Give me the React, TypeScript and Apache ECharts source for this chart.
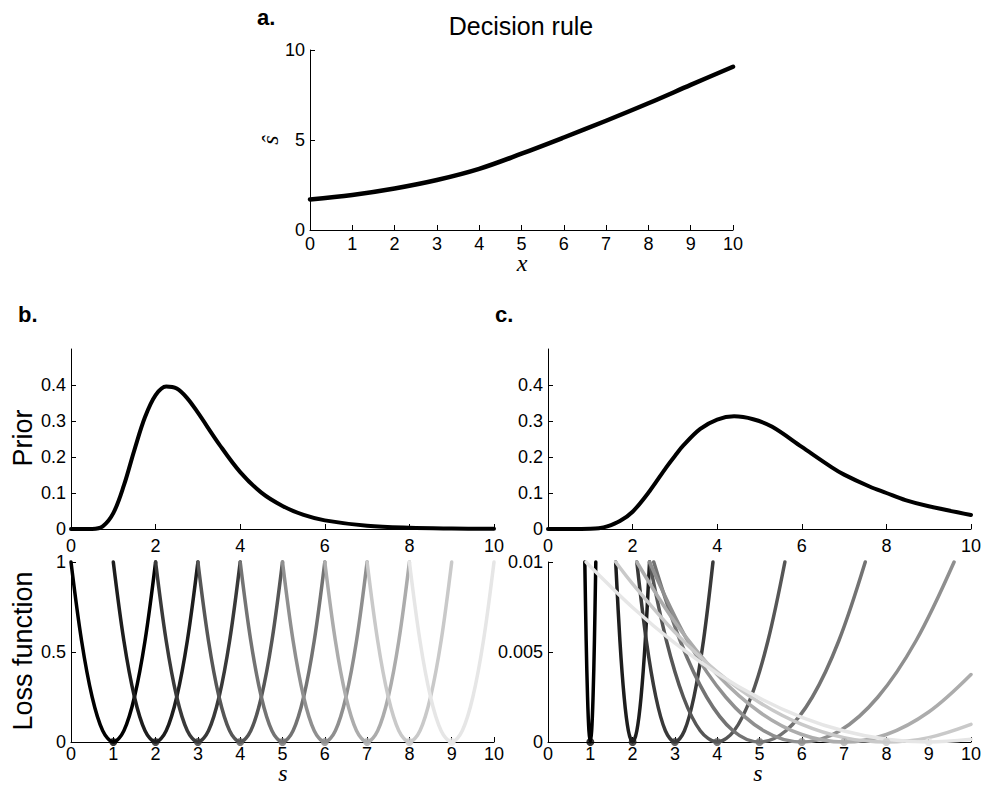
import React, { useEffect, useRef } from 'react';
import * as echarts from 'echarts';

// ---------- data ----------
const decisionX = [0, 1, 2, 3, 4, 5, 6, 7, 8, 9, 10];
const decisionY = [1.70, 1.95, 2.31, 2.78, 3.40, 4.24, 5.14, 6.07, 7.04, 8.06, 9.07];

const priorBS = [0, 0.5, 0.75, 1, 1.25, 1.5, 1.75, 2, 2.25, 2.5, 2.75, 3, 3.5, 4, 4.5, 5, 5.5, 6, 7, 8, 9, 10];
const priorBV = [0, 0.0003, 0.0075, 0.044, 0.121, 0.22, 0.311, 0.372, 0.396, 0.39, 0.363, 0.323, 0.236, 0.158, 0.101, 0.064, 0.039, 0.024, 0.009, 0.0033, 0.0013, 0.0005];

const priorCS = [0, 0.5, 1.0, 1.2, 1.4, 1.7, 2.0, 2.4, 2.8, 3.0, 3.2, 3.6, 4.0, 4.4, 4.85, 5.3, 6.0, 6.7, 7.0, 7.6, 8.0, 8.45, 9.0, 10];
const priorCV = [0, 0, 0.0005, 0.002, 0.007, 0.022, 0.048, 0.105, 0.172, 0.203, 0.232, 0.278, 0.304, 0.313, 0.305, 0.284, 0.228, 0.172, 0.151, 0.118, 0.1, 0.08, 0.063, 0.039];

const lossCenters = [1, 2, 3, 4, 5, 6, 7, 8, 9];
const lossGrays = ['#000000', '#1d1d1d', '#393939', '#565656', '#737373', '#8f8f8f', '#acacac', '#c9c9c9', '#e6e6e6'];

const lossBOffsets = [-1, -0.75, -0.5, -0.25, 0, 0.25, 0.5, 0.75, 1];
const lossBValues = [1, 0.5625, 0.25, 0.0625, 0, 0.0625, 0.25, 0.5625, 1];

const lossCShape = [0.01, 0.005625, 0.0025, 0.000625, 0, 0.000625, 0.0025, 0.005625, 0.01];
const lossCS = [
  [0.87, 0.9025, 0.935, 0.9675, 1, 1.0325, 1.065, 1.0975, 1.13],
  [1.6, 1.7, 1.8, 1.9, 2, 2.1, 2.2, 2.3, 2.4],
  [2.1, 2.325, 2.55, 2.775, 3, 3.225, 3.45, 3.675, 3.9],
  [2.4, 2.8, 3.2, 3.6, 4, 4.4, 4.8, 5.2, 5.6],
  [2.5, 3.125, 3.75, 4.375, 5, 5.625, 6.25, 6.875, 7.5],
  [2.4, 3.3, 4.2, 5.1, 6, 6.9, 7.8, 8.7, 9.6],
  [2.1, 3, 4, 5, 6, 7, 8, 9, 10],
  [1.6, 2, 3, 4, 5, 6, 7, 8, 9, 10],
  [0.9, 1, 2, 3, 4, 5, 6, 7, 8, 9, 10],
];
const lossCV = [
  lossCShape, lossCShape, lossCShape, lossCShape, lossCShape, lossCShape,
  [0.01, 0.00666, 0.00375, 0.001666, 0.000417, 0, 0.000417, 0.001666, 0.00375],
  [0.01, 0.00879, 0.0061, 0.0039, 0.0022, 0.000977, 0.000244, 0, 0.000244, 0.000977],
  [0.01, 0.00975, 0.00747, 0.00549, 0.00381, 0.00244, 0.00137, 0.00061, 0.000152, 0, 0.000152],
];

const SANS = '"Liberation Sans", Arial, Helvetica, sans-serif';
const SERIF = '"Liberation Serif", "DejaVu Serif", serif';

function xAx(grid: number, interval: number, margin: number) {
  return {
    type: 'value', gridIndex: grid, min: 0, max: 10, interval,
    axisLine: { show: true, onZero: false, lineStyle: { color: '#000', width: 1 } },
    axisTick: { show: true, inside: true, length: 5, lineStyle: { color: '#000' } },
    axisLabel: { color: '#000', fontSize: 18, fontFamily: SANS, margin },
    splitLine: { show: false },
  };
}

function yAx(grid: number, max: number, interval: number, shown: number[]) {
  return {
    type: 'value', gridIndex: grid, min: 0, max, interval,
    axisLine: { show: true, onZero: false, lineStyle: { color: '#000', width: 1 } },
    axisTick: { show: true, inside: true, length: 5, lineStyle: { color: '#000' }, customValues: shown },
    axisLabel: {
      color: '#000', fontSize: 18, fontFamily: SANS, margin: 5, customValues: shown,
      formatter: (v: number) => {
        const ok = shown.some((s) => Math.abs(s - v) < 1e-9);
        if (!ok) return '';
        return String(parseFloat(v.toFixed(4)));
      },
    },
    splitLine: { show: false },
  };
}

function lineSeries(ax: number, data: number[][], color: string, width: number) {
  return {
    type: 'line', xAxisIndex: ax, yAxisIndex: ax, data,
    smooth: 0.35, showSymbol: false, symbol: 'none', clip: false,
    lineStyle: { color, width, cap: 'round', join: 'round' },
    emphasis: { disabled: true }, silent: true,
  };
}

export default function App() {
  const ref = useRef<HTMLDivElement>(null);
  useEffect(() => {
    if (!ref.current) return;
    const chart = echarts.init(ref.current, undefined, { renderer: 'svg' });

    const series: any[] = [];
    series.push(lineSeries(0, decisionX.map((x, i) => [x, decisionY[i]]), '#000', 4.5));
    series.push(lineSeries(1, priorBS.map((x, i) => [x, priorBV[i]]), '#000', 4));
    series.push(lineSeries(2, priorCS.map((x, i) => [x, priorCV[i]]), '#000', 4));
    lossCenters.forEach((c, k) => {
      series.push(lineSeries(3, lossBOffsets.map((o, i) => [c + o, lossBValues[i]]), lossGrays[k], 3.5));
    });
    lossCenters.forEach((c, k) => {
      series.push(lineSeries(4, lossCS[k].map((s, i) => [s, lossCV[k][i]]), lossGrays[k], 3.5));
    });
    [3, 4].forEach((ax) => {
      series.push({
        type: 'scatter', xAxisIndex: ax, yAxisIndex: ax, symbolSize: 8, clip: false, silent: true,
        data: lossCenters.map((c, k) => ({ value: [c, 0], itemStyle: { color: lossGrays[k] } })),
        z: 5,
      });
    });

    const gridBase = { containLabel: false, outerBoundsMode: 'none', show: false };
    const mathText = (x: number, y: number, text: string, rot = 0, va = 'middle') => ({
      type: 'text', x, y, rotation: rot,
      style: { text, fontSize: 24, fontStyle: 'italic', fontFamily: SERIF, fill: '#000', align: 'center', verticalAlign: va },
    });
    const option: any = {
      animation: false,
      backgroundColor: '#fff',
      grid: [
        { ...gridBase, left: 310, top: 50, width: 423, height: 180 },
        { ...gridBase, left: 71, top: 349, width: 423, height: 180 },
        { ...gridBase, left: 548, top: 349, width: 423, height: 180 },
        { ...gridBase, left: 71, top: 562, width: 423, height: 180 },
        { ...gridBase, left: 548, top: 562, width: 423, height: 180 },
      ],
      xAxis: [xAx(0, 1, 5), xAx(1, 2, 8), xAx(2, 2, 8), xAx(3, 1, 3), xAx(4, 1, 3)],
      yAxis: [
        yAx(0, 10, 5, [0, 5, 10]),
        yAx(1, 0.5, 0.1, [0, 0.1, 0.2, 0.3, 0.4]),
        yAx(2, 0.5, 0.1, [0, 0.1, 0.2, 0.3, 0.4]),
        yAx(3, 1, 0.5, [0, 0.5, 1]),
        yAx(4, 0.01, 0.005, [0, 0.005, 0.01]),
      ],
      series,
      graphic: [
        { type: 'text', x: 257, y: 17, style: { text: 'a.', fontSize: 22, fontWeight: 'bold', fontFamily: SANS, fill: '#000', align: 'left', verticalAlign: 'middle' } },
        { type: 'text', x: 18, y: 314, style: { text: 'b.', fontSize: 22, fontWeight: 'bold', fontFamily: SANS, fill: '#000', align: 'left', verticalAlign: 'middle' } },
        { type: 'text', x: 495, y: 314, style: { text: 'c.', fontSize: 22, fontWeight: 'bold', fontFamily: SANS, fill: '#000', align: 'left', verticalAlign: 'middle' } },
        { type: 'text', x: 521, y: 26, style: { text: 'Decision rule', fontSize: 25, fontFamily: SANS, fill: '#000', align: 'center', verticalAlign: 'middle' } },
        { type: 'text', x: 23, y: 438, rotation: Math.PI / 2, style: { text: 'Prior', fontSize: 27, fontFamily: SANS, fill: '#000', align: 'center', verticalAlign: 'middle' } },
        { type: 'text', x: 23, y: 651, rotation: Math.PI / 2, style: { text: 'Loss function', fontSize: 27, fontFamily: SANS, fill: '#000', align: 'center', verticalAlign: 'middle' } },
        mathText(270, 140, 'ŝ', Math.PI / 2),
        mathText(522, 275, 'x', 0, 'bottom'),
        mathText(283, 785, 's', 0, 'bottom'),
        mathText(758, 785, 's', 0, 'bottom'),
      ],
    };
    chart.setOption(option);
    return () => chart.dispose();
  }, []);

  return (
    <div
      ref={ref}
      style={{ position: 'fixed', left: 0, top: 0, width: 983, height: 785, background: '#fff' }}
    />
  );
}
